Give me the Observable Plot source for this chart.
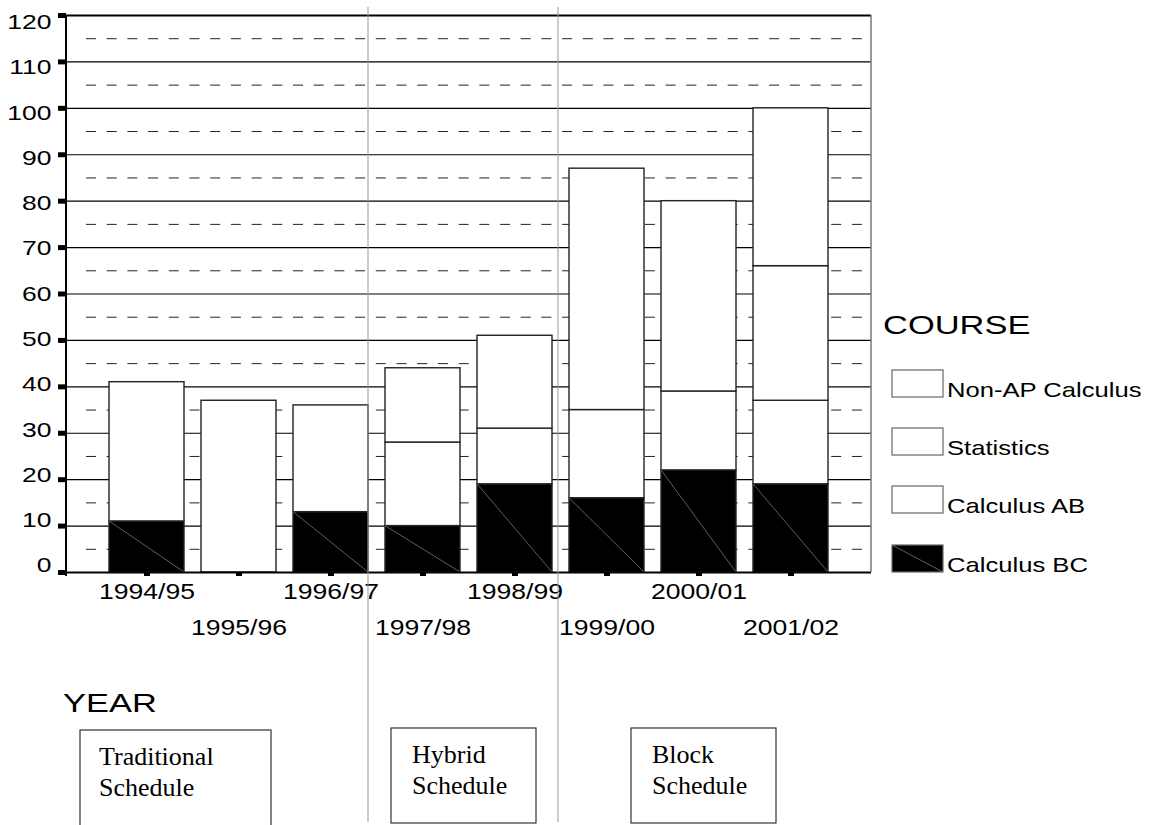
<!DOCTYPE html>
<html><head><meta charset="utf-8">
<script src="https://cdn.jsdelivr.net/npm/d3@7"></script>
<script src="https://cdn.jsdelivr.net/npm/@observablehq/plot@0.6"></script>
<style>body{margin:0;background:#fff} svg{display:block}</style>
</head><body><div id="chart"></div>
<script>
// ---- data ----
const years = ["1994/95","1995/96","1996/97","1997/98","1998/99","1999/00","2000/01","2001/02"];
const courses = ["Non-AP Calculus","Statistics","Calculus AB","Calculus BC"]; // legend order (top to bottom)
const calcBC     = [11, 0, 13, 10, 19, 16, 22, 19];
const calcAB     = [30, 37, 23, 18, 12, 19, 17, 18];
const statistics = [0, 0, 0, 0, 0, 0, 0, 29];
const nonAP      = [0, 0, 0, 16, 20, 52, 41, 34];
const yTicks = [0,10,20,30,40,50,60,70,80,90,100,110,120];
const yMinor = [5,15,25,35,45,55,65,75,85,95,105,115];
const schedules = [["Traditional","Schedule"],["Hybrid","Schedule"],["Block","Schedule"]];

const stackOrder = ["Calculus BC","Calculus AB","Statistics","Non-AP Calculus"];
const seriesByCourse = {"Calculus BC": calcBC, "Calculus AB": calcAB, "Statistics": statistics, "Non-AP Calculus": nonAP};
const segments = [];
years.forEach((yr, i) => stackOrder.forEach(c => {
  const v = seriesByCourse[c][i];
  if (v > 0) segments.push({year: yr, course: c, value: v});
}));

const SANS = "'Liberation Sans', Arial, sans-serif";
const SERIF = "'Liberation Serif', 'Times New Roman', serif";

const chart = Plot.plot({
  width: 1149, height: 825,
  marginLeft: 66, marginRight: 278, marginTop: 15, marginBottom: 253,
  x: {domain: years, paddingInner: 0.18, paddingOuter: 0.43, axis: null},
  y: {domain: [0, 120], axis: null},
  color: {type: "identity"},
  style: {fontFamily: SANS, background: "white", color: "#000", overflow: "visible"},
  marks: [
    Plot.ruleY(yMinor, {stroke: "#222", strokeWidth: 1, strokeDasharray: "10,10.7", insetLeft: 20}),
    Plot.ruleY(yTicks.filter(d => d > 0 && d < 120), {stroke: "#000", strokeWidth: 1.1}),
    Plot.barY(segments, Plot.stackY({
      x: "year", y: "value", z: "course", order: stackOrder,
      fill: d => d.course === "Calculus BC" ? "#000" : "#fff",
      stroke: "#222", strokeWidth: 1.4
    })),
    Plot.ruleY([0, 120], {stroke: "#000", strokeWidth: 2}),
    Plot.axisY({ticks: yTicks, tickSize: 8, strokeWidth: 5, tickFormat: () => "", anchor: "left", label: null}),
    Plot.axisX({tickSize: 4, strokeWidth: 6, tickFormat: () => "", anchor: "bottom", label: null}),
    Plot.text(yTicks, {y: d => 1.5 + d * 0.975, text: d => String(d), frameAnchor: "left",
      dx: -15, textAnchor: "end", fontSize: 21}),
    Plot.text(years.filter((d, i) => i % 2 === 0), {x: d => d, text: d => d, frameAnchor: "bottom",
      dy: 26, fontSize: 22.5}),
    Plot.text(years.filter((d, i) => i % 2 === 1), {x: d => d, text: d => d, frameAnchor: "bottom",
      dy: 62, fontSize: 22.5})
  ]
});
document.getElementById("chart").append(chart);

const svg = d3.select(chart);
const xs = chart.scale("x");
const bw = xs.bandwidth;
const y0 = 572, yTop = 15, xL = 66, xR = 871;

// frame lines
svg.append("line").attr("x1", xR).attr("x2", xR).attr("y1", yTop).attr("y2", y0)
  .attr("stroke", "#777").attr("stroke-width", 1.5);
svg.append("line").attr("x1", xL).attr("x2", xL).attr("y1", yTop).attr("y2", y0 + 4)
  .attr("stroke", "#000").attr("stroke-width", 2);

// diagonal in the black (Calculus BC) segments
svg.selectAll('g[aria-label="bar"] rect').each(function () {
  const f = (this.getAttribute("fill") || "").toLowerCase();
  if (f !== "#000" && f !== "black" && f !== "rgb(0, 0, 0)") return;
  const x = +this.getAttribute("x"), y = +this.getAttribute("y");
  const w = +this.getAttribute("width"), h = +this.getAttribute("height");
  d3.select(this.parentNode).append("line")
    .attr("x1", x).attr("y1", y).attr("x2", x + w).attr("y2", y + h)
    .attr("stroke", "#888").attr("stroke-width", 0.7);
});

// schedule separators
const sep1 = xs.apply("1996/97") + bw;
const sep2 = xs.apply("1998/99") + bw + 6;
[sep1, sep2].forEach(x => svg.append("line").attr("x1", x).attr("x2", x).attr("y1", 7).attr("y2", 822)
  .attr("stroke", "#999").attr("stroke-width", 1));

// titles
const addText = (cls, x, y, size, fam, txt) => svg.append("text").attr("class", cls)
  .attr("x", x).attr("y", y).attr("font-size", size).attr("font-family", fam)
  .attr("text-anchor", "start").attr("fill", "#000").text(txt);
addText("big", 883, 334, 26.5, SANS, "COURSE");
addText("big", 63, 712, 26.5, SANS, "YEAR");

// legend
const legTops = [370, 428, 486, 545];
courses.forEach((c, i) => {
  const t = legTops[i];
  svg.append("rect").attr("x", 892).attr("y", t).attr("width", 51).attr("height", 27)
    .attr("fill", c === "Calculus BC" ? "#000" : "#fff").attr("stroke", "#666").attr("stroke-width", 1.2);
  if (c === "Calculus BC") svg.append("line").attr("x1", 892).attr("y1", t).attr("x2", 943).attr("y2", t + 27)
    .attr("stroke", "#888").attr("stroke-width", 0.7);
  addText("leg", 947, t + 27, 21, SANS, c);
});

// schedule boxes
const boxes = [{x: 80, y: 730, w: 191, h: 110, tx: 99, b: 765}, {x: 391, y: 728, w: 145, h: 95, tx: 412, b: 763}, {x: 631, y: 728, w: 145, h: 95, tx: 652, b: 763}];
boxes.forEach((bx, i) => {
  svg.append("rect").attr("x", bx.x).attr("y", bx.y).attr("width", bx.w).attr("height", bx.h)
    .attr("fill", "none").attr("stroke", "#333").attr("stroke-width", 1.2);
  schedules[i].forEach((line, j) => addText("serif", bx.tx, bx.b + j * 31, 26, SERIF, line));
});

// horizontally stretched sans text, as in the reference
function stretch(sel, k) {
  sel.each(function () {
    const L = this.getComputedTextLength();
    if (L > 0) { this.setAttribute("textLength", L * k); this.setAttribute("lengthAdjust", "spacingAndGlyphs"); }
  });
}
const textGroups = svg.selectAll('g[aria-label="text"]').nodes();
if (textGroups[0]) stretch(d3.select(textGroups[0]).selectAll("text"), 1.26);
if (textGroups[1]) stretch(d3.select(textGroups[1]).selectAll("text"), 1.18);
if (textGroups[2]) stretch(d3.select(textGroups[2]).selectAll("text"), 1.18);
stretch(svg.selectAll('text.big'), 1.3);
stretch(svg.selectAll('text.leg'), 1.22);
</script></body></html>
